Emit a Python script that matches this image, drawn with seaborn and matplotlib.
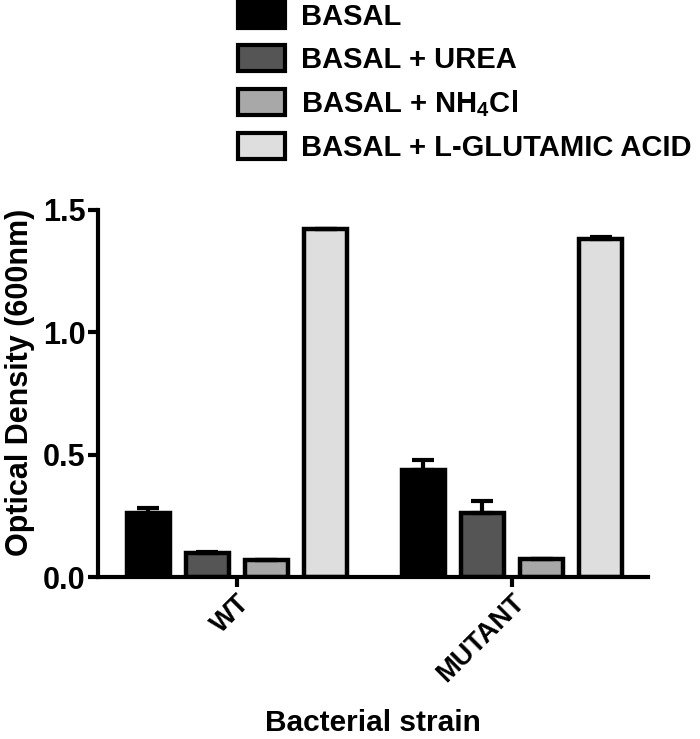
import matplotlib
matplotlib.use("Agg")
import matplotlib.pyplot as plt
import seaborn as sns
import pandas as pd
import numpy as np

strains = ["WT", "MUTANT"]
media = ["BASAL", "BASAL + UREA", "BASAL + NH$_4$Cl", "BASAL + L-GLUTAMIC ACID"]
od_wt = [0.26, 0.10, 0.07, 1.42]
od_mutant = [0.437, 0.26, 0.073, 1.38]
err_wt = [0.022, 0.004, 0.002, 0.003]
err_mutant = [0.042, 0.052, 0.002, 0.008]
bar_colors = ["#000000", "#555555", "#a8a8a8", "#dedede"]

sns.set_style("ticks")
plt.rcParams["font.family"] = ["Liberation Sans", "DejaVu Sans"]
plt.rcParams["font.weight"] = "bold"
plt.rcParams["mathtext.fontset"] = "custom"
plt.rcParams["mathtext.rm"] = "Liberation Sans:bold"
plt.rcParams["mathtext.it"] = "Liberation Sans:bold"
plt.rcParams["mathtext.bf"] = "Liberation Sans:bold"
plt.rcParams["mathtext.default"] = "rm"
for key in ["text.color", "axes.labelcolor", "xtick.color", "ytick.color",
            "axes.edgecolor"]:
    plt.rcParams[key] = "black"

df = pd.DataFrame({
    "strain": np.repeat(strains, len(media)),
    "medium": media * len(strains),
    "od": od_wt + od_mutant,
    "err": err_wt + err_mutant,
})

fig = plt.figure(figsize=(7.0, 7.39), dpi=100)
ax = fig.add_axes([0.14, 0.219, 0.786, 0.497])

sns.barplot(data=df, x="strain", y="od", hue="medium", hue_order=media,
            order=strains, palette=bar_colors, errorbar=None, width=0.86,
            gap=0.27, edgecolor="black", linewidth=3.2, ax=ax, legend=False)

# upper error bars on top of each bar
for j, med in enumerate(media):
    cont = ax.containers[j]
    for i, rect in enumerate(cont.patches):
        row = df[(df.strain == strains[i]) & (df.medium == med)].iloc[0]
        cx = rect.get_x() + rect.get_width() / 2
        ax.errorbar(cx, row.od, yerr=[[0], [row.err]], fmt="none",
                    ecolor="black", elinewidth=3, capsize=8, capthick=3,
                    zorder=1)

ax.set_xlim(-0.505, 1.495)
ax.set_ylim(0, 1.5)
ax.set_yticks([0.0, 0.5, 1.0, 1.5])
ax.set_yticklabels(["0.0", "0.5", "1.0", "1.5"])
ax.tick_params(axis="y", length=7, width=3, labelsize=22, pad=2)
ax.tick_params(axis="x", length=7, width=3, labelsize=19.5, pad=2)
plt.setp(ax.get_xticklabels(), rotation=45, ha="right", rotation_mode="anchor")
for lbl in ax.get_xticklabels() + ax.get_yticklabels():
    lbl.set_fontweight("bold")

sns.despine(ax=ax)
for side in ["left", "bottom"]:
    ax.spines[side].set_linewidth(3)

ax.set_xlabel("Bacterial strain", fontsize=21.5, fontweight="bold")
ax.set_ylabel("Optical Density (600nm)", fontsize=22, fontweight="bold")
ax.xaxis.set_label_coords(0.5, -0.36)
ax.yaxis.set_label_coords(-0.115, 0.53)

handles = [plt.Rectangle((0, 0), 1, 1, facecolor=c, edgecolor="black", linewidth=3)
           for c in bar_colors]
fig.legend(handles, media, loc="upper left", bbox_to_anchor=(0.315, 1.021),
           frameon=False, handlelength=1.6, handleheight=1.0,
           handletextpad=0.55, labelspacing=0.48, borderpad=0.1,
           prop={"weight": "bold", "size": 21})

fig.savefig("out.png", dpi=100)
